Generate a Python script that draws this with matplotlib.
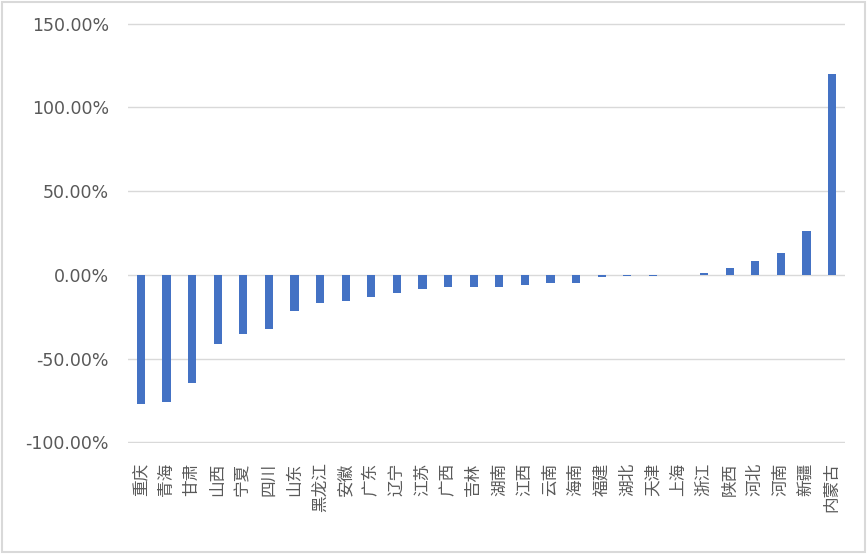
import matplotlib.pyplot as plt
import matplotlib.ticker as mticker
from matplotlib.patches import Rectangle

# provinces, sorted by change
provinces = ["重庆", "青海", "甘肃", "山西", "宁夏", "四川", "山东", "黑龙江", "安徽", "广东",
             "辽宁", "江苏", "广西", "吉林", "湖南", "江西", "云南", "海南", "福建", "湖北",
             "天津", "上海", "浙江", "陕西", "河北", "河南", "新疆", "内蒙古"]
change_pct = [-77.2, -76.0, -64.7, -41.5, -35.5, -32.5, -21.8, -17.0, -15.9, -13.5,
              -11.1, -8.2, -7.5, -7.5, -7.5, -6.2, -5.0, -5.0, -1.4, -0.7,
              -0.7, 0.0, 1.4, 4.3, 8.5, 13.3, 26.4, 119.7]
y_ticks = [-100, -50, 0, 50, 100, 150]

fig = plt.figure(figsize=(8.68, 5.54), dpi=100)
ax = fig.add_axes([128 / 868, 1 - 443 / 554, (845 - 128) / 868, (443 - 23) / 554])

x = range(len(provinces))
ax.bar(x, change_pct, width=0.32, color="#4472C4", zorder=3)

ax.set_xlim(-0.5, len(provinces) - 0.5)
ax.set_ylim(-100.4, 150.4)
ax.set_yticks(y_ticks)
ax.yaxis.set_major_formatter(mticker.FuncFormatter(lambda v, p: f"{v:.2f}%"))
ax.grid(axis="y", color="#D9D9D9", linewidth=1, zorder=0)
ax.set_axisbelow(True)

for s in ax.spines.values():
    s.set_visible(False)

ax.tick_params(axis="y", length=0, pad=13.7, labelsize=12.5, labelcolor="#595959")
ax.tick_params(axis="x", length=0, pad=14)
ax.set_xticks(list(x))
ax.set_xticklabels(provinces, rotation=90, fontsize=12, color="#595959",
                   family=["Noto Sans CJK SC", "DejaVu Sans"])

# chart border
fig.patches.append(Rectangle((0.002, 0.003), 0.994, 0.994, transform=fig.transFigure,
                             fill=False, edgecolor="#D9D9D9", linewidth=1.5))

fig.savefig("out.png", dpi=100)
